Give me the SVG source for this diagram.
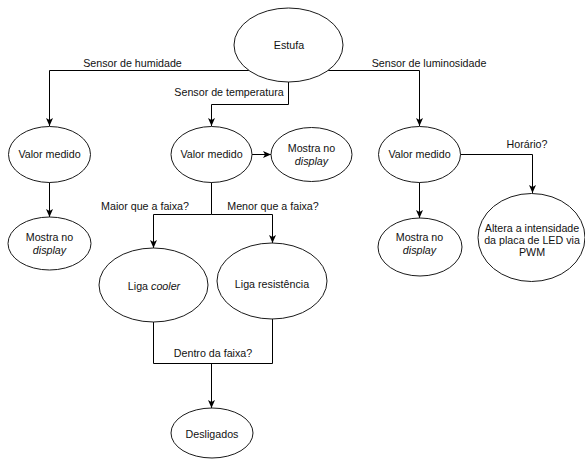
<svg xmlns="http://www.w3.org/2000/svg" width="585" height="459" viewBox="0 0 585 459">
<style>
  .node ellipse { fill: #ffffff; stroke: #1a1a1a; stroke-width: 1; }
  text { font-family: "Liberation Sans", Arial, sans-serif; font-size: 10.7px; fill: #111111; text-anchor: middle; }
  .it { font-style: italic; }
  .edge { fill: none; stroke: #000000; stroke-width: 1; }
  .arr { marker-end: url(#arrow); }
</style>
<defs>
  <marker id="arrow" viewBox="0 0 8 8" refX="8" refY="4" markerWidth="8" markerHeight="8" orient="auto" markerUnits="userSpaceOnUse">
    <path d="M0,0.5 L8,4 L0,7.5 L2,4 Z" fill="#000000"/>
  </marker>
</defs>
<rect width="585" height="459" fill="#ffffff"/>

<g id="connectors">
  <path class="edge arr" d="M249,70.5 H49.5 V126"/>
  <path class="edge arr" d="M288.5,82 V104.5 H211.5 V126"/>
  <path class="edge arr" d="M328,70.5 H419.5 V126"/>
  <path class="edge arr" d="M252,154.5 H271"/>
  <path class="edge arr" d="M460,154.5 H532.5 V193"/>
  <path class="edge arr" d="M49.5,182 V217"/>
  <path class="edge arr" d="M419.5,182 V218"/>
  <path class="edge" d="M211.5,182 V214.5"/>
  <path class="edge arr" d="M211.5,214.5 H153.5 V248"/>
  <path class="edge arr" d="M211.5,214.5 H272.5 V243"/>
  <path class="edge" d="M153.5,322 V363.5 H272.5 V319"/>
  <path class="edge arr" d="M211.5,363.5 V408"/>
  <text x="132.5" y="67">Sensor de humidade</text>
  <text x="229" y="95.5">Sensor de temperatura</text>
  <text x="429" y="67">Sensor de luminosidade</text>
  <text x="527" y="148">Horário?</text>
  <text x="145" y="210">Maior que a faixa?</text>
  <text x="273" y="210">Menor que a faixa?</text>
  <text x="213" y="356.5">Dentro da faixa?</text>
</g>

<g id="estufa" class="node">
  <ellipse cx="288.5" cy="45" rx="54.5" ry="37"/>
  <text x="289" y="49">Estufa</text>
</g>
<g id="valor-humidade" class="node">
  <ellipse cx="49.5" cy="154.5" rx="41" ry="28"/>
  <text x="49.5" y="158">Valor medido</text>
</g>
<g id="valor-temperatura" class="node">
  <ellipse cx="211.5" cy="154.5" rx="40.5" ry="28"/>
  <text x="211.5" y="158">Valor medido</text>
</g>
<g id="mostra-temperatura" class="node">
  <ellipse cx="311.5" cy="154.5" rx="40.5" ry="27"/>
  <text x="311.5" y="151.5">Mostra no</text>
  <text x="311.5" y="165" class="it">display</text>
</g>
<g id="valor-luminosidade" class="node">
  <ellipse cx="419.5" cy="154.5" rx="41" ry="28"/>
  <text x="419.5" y="158">Valor medido</text>
</g>
<g id="mostra-humidade" class="node">
  <ellipse cx="49.5" cy="243.5" rx="41.5" ry="26.5"/>
  <text x="49.5" y="240.5">Mostra no</text>
  <text x="49.5" y="254" class="it">display</text>
</g>
<g id="mostra-luminosidade" class="node">
  <ellipse cx="420" cy="247" rx="42" ry="29"/>
  <text x="419.5" y="241">Mostra no</text>
  <text x="419.5" y="254" class="it">display</text>
</g>
<g id="altera-led" class="node">
  <ellipse cx="531.5" cy="237.5" rx="53.5" ry="44"/>
  <text x="532" y="232">Altera a intensidade</text>
  <text x="532" y="244">da placa de LED via</text>
  <text x="532" y="256">PWM</text>
</g>
<g id="liga-cooler" class="node">
  <ellipse cx="153.5" cy="285" rx="54.5" ry="37"/>
  <text x="154" y="290">Liga <tspan class="it">cooler</tspan></text>
</g>
<g id="liga-resistencia" class="node">
  <ellipse cx="272" cy="281" rx="55" ry="38"/>
  <text x="272" y="288">Liga resistência</text>
</g>
<g id="desligados" class="node">
  <ellipse cx="212" cy="433" rx="41" ry="25"/>
  <text x="212" y="438">Desligados</text>
</g>
</svg>
